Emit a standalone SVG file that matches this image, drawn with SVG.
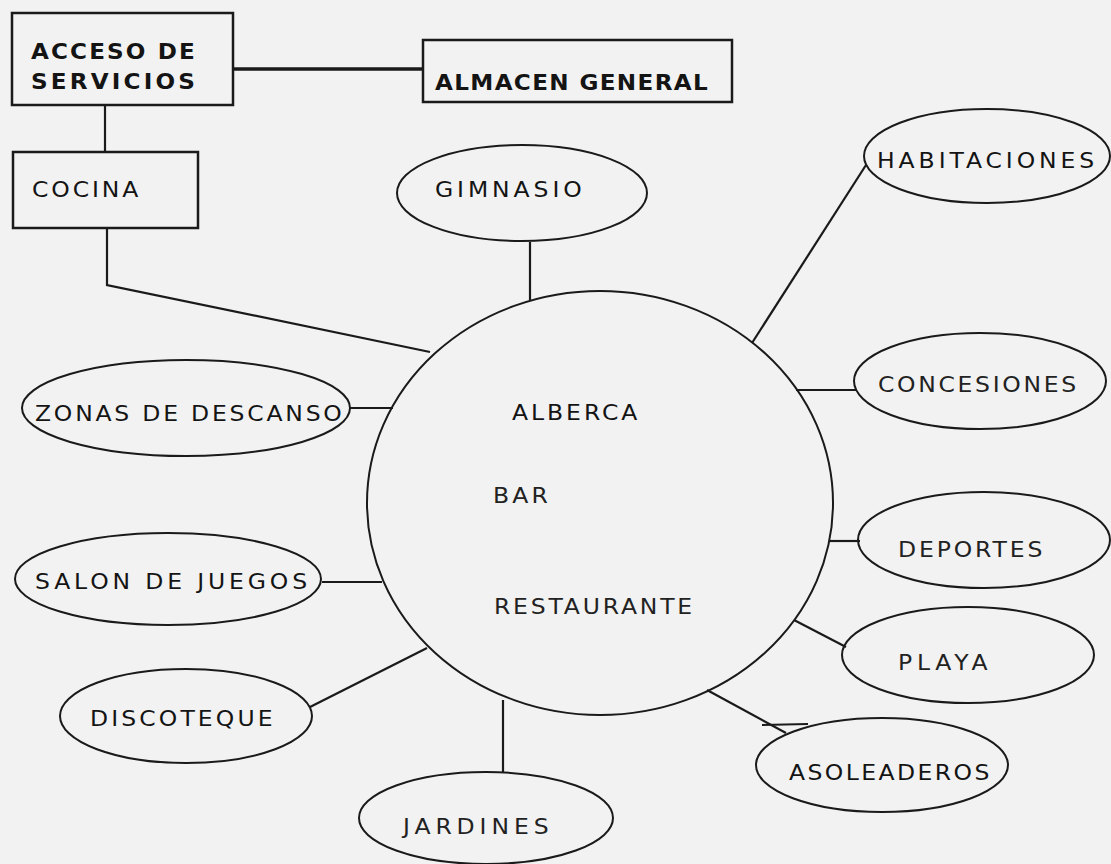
<svg xmlns="http://www.w3.org/2000/svg" width="1111" height="864" viewBox="0 0 1111 864">
<style>
.bg{fill:#f2f2f2}
.box{fill:none;stroke:#1a1a1a;stroke-width:2.5}
.oval{fill:none;stroke:#1a1a1a;stroke-width:2}
.conn{fill:none;stroke:#1a1a1a;stroke-width:2.2}
.thick{stroke-width:3.5}
text{font-family:"DejaVu Sans","Liberation Sans",Arial,sans-serif;font-size:21px;fill:#141414}
.b{font-weight:bold}
.l{fill:#222}
</style>
<rect class="bg" x="0" y="0" width="1111" height="864"/>
<g id="connectors">
<line class="conn thick" x1="233" y1="69" x2="423" y2="69"/>
<line class="conn" x1="105" y1="105" x2="105" y2="152"/>
<polyline class="conn" points="107,228 107,285 430,352"/>
<line class="conn" x1="530" y1="242" x2="530" y2="300"/>
<line class="conn" x1="866" y1="165" x2="752" y2="343"/>
<line class="conn" x1="796" y1="390" x2="856" y2="390"/>
<line class="conn" x1="350" y1="408" x2="393" y2="408"/>
<line class="conn" x1="322" y1="582" x2="382" y2="582"/>
<line class="conn" x1="830" y1="541" x2="860" y2="541"/>
<line class="conn" x1="794" y1="620" x2="846" y2="647"/>
<line class="conn" x1="707" y1="690" x2="786" y2="733"/>
<line class="conn" x1="762" y1="725" x2="808" y2="724"/>
<line class="conn" x1="310" y1="707" x2="427" y2="648"/>
<line class="conn" x1="503" y1="700" x2="503" y2="772"/>
</g>
<g id="acceso">
<rect class="box" x="12" y="13" width="221" height="92"/>
<text class="b" transform="translate(31,59) scale(1.1,1)" textLength="149" lengthAdjust="spacing">ACCESO DE</text>
<text class="b" transform="translate(31,89) scale(1.1,1)" textLength="149" lengthAdjust="spacing">SERVICIOS</text>
</g>
<g id="almacen">
<rect class="box" x="423" y="40" width="309" height="62"/>
<text class="b" transform="translate(435,90) scale(1.1,1)" textLength="248" lengthAdjust="spacing">ALMACEN GENERAL</text>
</g>
<g id="cocina">
<rect class="box" x="13" y="152" width="185" height="76"/>
<text transform="translate(32,197) scale(1.12,1)" textLength="95" lengthAdjust="spacing">COCINA</text>
</g>
<g id="alberca">
<ellipse class="oval" cx="600" cy="503" rx="233" ry="212"/>
<text transform="translate(512,420) scale(1.12,1)" textLength="112" lengthAdjust="spacing">ALBERCA</text>
<text class="l" transform="translate(493,503) scale(1.12,1)" textLength="49" lengthAdjust="spacing">BAR</text>
<text class="l" transform="translate(494,614) scale(1.12,1)" textLength="177" lengthAdjust="spacing">RESTAURANTE</text>
</g>
<g id="gimnasio">
<ellipse class="oval" cx="522" cy="193" rx="125" ry="48"/>
<text transform="translate(435,197) scale(1.12,1)" textLength="131" lengthAdjust="spacing">GIMNASIO</text>
</g>
<g id="habitaciones">
<ellipse class="oval" cx="987" cy="156" rx="123" ry="47"/>
<text transform="translate(877,168) scale(1.12,1)" textLength="194" lengthAdjust="spacing">HABITACIONES</text>
</g>
<g id="concesiones">
<ellipse class="oval" cx="980" cy="381" rx="126" ry="48"/>
<text class="l" transform="translate(878,392) scale(1.12,1)" textLength="177" lengthAdjust="spacing">CONCESIONES</text>
</g>
<g id="zonas">
<ellipse class="oval" cx="186" cy="408" rx="164" ry="48"/>
<text transform="translate(35,421) scale(1.12,1)" textLength="274" lengthAdjust="spacing">ZONAS DE DESCANSO</text>
</g>
<g id="salon">
<ellipse class="oval" cx="168" cy="579" rx="153" ry="46"/>
<text transform="translate(35,589) scale(1.12,1)" textLength="243" lengthAdjust="spacing">SALON DE JUEGOS</text>
</g>
<g id="deportes">
<ellipse class="oval" cx="984" cy="540" rx="126" ry="48"/>
<text class="l" transform="translate(898,557) scale(1.12,1)" textLength="129" lengthAdjust="spacing">DEPORTES</text>
</g>
<g id="playa">
<ellipse class="oval" cx="968" cy="655" rx="126" ry="48"/>
<text class="l" transform="translate(898,670) scale(1.12,1)" textLength="80" lengthAdjust="spacing">PLAYA</text>
</g>
<g id="asoleaderos">
<ellipse class="oval" cx="882" cy="765" rx="126" ry="47"/>
<text transform="translate(789,780) scale(1.12,1)" textLength="179" lengthAdjust="spacing">ASOLEADEROS</text>
</g>
<g id="discoteque">
<ellipse class="oval" cx="186" cy="716" rx="126" ry="47"/>
<text transform="translate(90,726) scale(1.12,1)" textLength="163" lengthAdjust="spacing">DISCOTEQUE</text>
</g>
<g id="jardines">
<ellipse class="oval" cx="486" cy="818" rx="127" ry="46"/>
<text class="l" transform="translate(403,834) scale(1.12,1)" textLength="130" lengthAdjust="spacing">JARDINES</text>
</g>
</svg>
